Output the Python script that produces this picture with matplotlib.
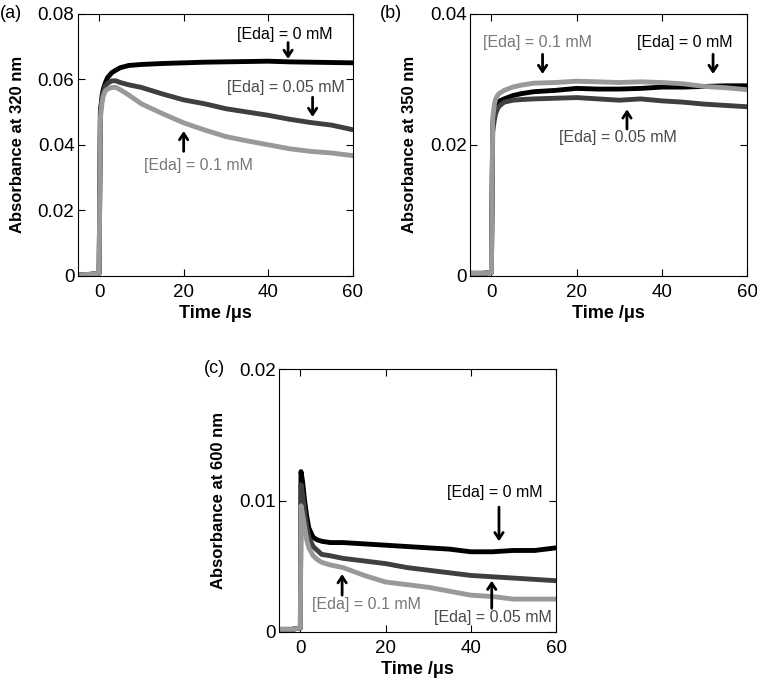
import matplotlib
matplotlib.use('Agg')
import matplotlib.pyplot as plt

plt.rcParams['font.family'] = ['Liberation Sans', 'DejaVu Sans']

# ---- datos ----
# (a) 320 nm
t_a = [-5, -2, -0.2, 0, 0.3, 0.7, 1, 1.5, 2, 3, 4, 5, 7, 10, 15, 20, 25, 30, 35, 40, 45, 50, 55, 60]
a_0 = [0.0003, 0.0005, 0.0008, 0.0008, 0.050, 0.055, 0.057, 0.059, 0.0605, 0.062, 0.0628, 0.0635, 0.0642,
       0.0645, 0.0648, 0.0650, 0.0652, 0.0653, 0.0654, 0.0655, 0.0653, 0.0652, 0.0651, 0.0650]
a_005 = [0.0003, 0.0005, 0.0008, 0.0008, 0.050, 0.054, 0.056, 0.058, 0.0588, 0.0595, 0.0595, 0.059, 0.0583,
         0.0575, 0.0555, 0.0537, 0.0525, 0.0510, 0.0500, 0.0490, 0.0478, 0.0468, 0.0460, 0.0446]
a_01 = [0.0003, 0.0005, 0.0008, 0.0008, 0.048, 0.053, 0.055, 0.0565, 0.057, 0.0575, 0.0575, 0.0568, 0.0552,
        0.0525, 0.0495, 0.0467, 0.0445, 0.0425, 0.0412, 0.0400, 0.0388, 0.0380, 0.0375, 0.0367]

# (b) 350 nm
t_b = [-5, -2, -0.2, 0, 0.3, 0.7, 1, 1.5, 2, 3, 5, 7, 10, 15, 20, 25, 30, 35, 40, 45, 50, 55, 60]
b_0 = [0.0004, 0.0004, 0.0005, 0.0005, 0.023, 0.025, 0.0258, 0.0264, 0.0267, 0.027, 0.0275, 0.0278, 0.0281,
       0.0283, 0.0286, 0.0285, 0.0285, 0.0286, 0.0288, 0.0288, 0.0289, 0.0290, 0.0290]
b_005 = [0.0004, 0.0004, 0.0005, 0.0005, 0.022, 0.0238, 0.0248, 0.0256, 0.026, 0.0265, 0.0268, 0.0269, 0.0270,
         0.0271, 0.0272, 0.0270, 0.0268, 0.0270, 0.0267, 0.0265, 0.0262, 0.0260, 0.0258]
b_01 = [0.0004, 0.0004, 0.0005, 0.0005, 0.024, 0.0262, 0.027, 0.0276, 0.0279, 0.0283, 0.0288, 0.0291, 0.0294,
        0.0295, 0.0297, 0.0296, 0.0295, 0.0296, 0.0295, 0.0293, 0.0289, 0.0287, 0.0284]

# (c) 600 nm
t_c = [-5, -2, -0.2, 0, 0.15, 0.5, 1, 1.5, 2, 3, 4, 5, 7, 10, 15, 20, 25, 30, 35, 40, 45, 50, 55, 60]
c_0 = [0.0002, 0.0002, 0.0003, 0.0003, 0.0122, 0.0115, 0.0100, 0.0088, 0.0079, 0.0072, 0.0070, 0.0069,
       0.0068, 0.0068, 0.0067, 0.0066, 0.0065, 0.0064, 0.0063, 0.0061, 0.0061, 0.0062, 0.0062, 0.0064]
c_005 = [0.0002, 0.0002, 0.0003, 0.0003, 0.0112, 0.0105, 0.0092, 0.0080, 0.0072, 0.0065, 0.0062, 0.0059,
         0.0058, 0.0056, 0.0054, 0.0052, 0.0049, 0.0047, 0.0045, 0.0043, 0.0042, 0.0041, 0.0040, 0.0039]
c_01 = [0.0002, 0.0002, 0.0003, 0.0003, 0.0096, 0.0090, 0.0080, 0.0070, 0.0064, 0.0058, 0.0055, 0.0053,
        0.0051, 0.0049, 0.0043, 0.0038, 0.0036, 0.0034, 0.0031, 0.0028, 0.0027, 0.0025, 0.0025, 0.0025]

COLORS = ['#000000', '#3f3f3f', '#999999']
TXT_COL = ['#000000', '#4a4a4a', '#777777']
LABELS = ['[Eda] = 0 mM', '[Eda] = 0.05 mM', '[Eda] = 0.1 mM']

# anotaciones: (texto x, texto y, flecha x, y cola, y punta)
ANN_A = [(44, 0.0736, 44.7, 0.0712, 0.0662),
         (44.3, 0.0574, 50.5, 0.0545, 0.0485),
         (23.4, 0.0336, 20, 0.0380, 0.0442)]
ANN_B = [(45.4, 0.0356, 52, 0.0338, 0.0308),
         (29.6, 0.0211, 31.8, 0.0224, 0.0254),
         (10.9, 0.0356, 12, 0.0338, 0.0308)]
ANN_C = [(45.7, 0.0106, 46.6, 0.0095, 0.0069),
         (45.2, 0.0011, 44.9, 0.0018, 0.0039),
         (15.5, 0.0021, 9.8, 0.0028, 0.0044)]


def panel(ax, t, series, ymax, yticks, yticklabels, ylabel, ann):
    for y, c in zip(series, COLORS):
        ax.plot(t, y, color=c, lw=3.5, solid_joinstyle='round')
    ax.set_xlim(-5, 60)
    ax.set_ylim(0, ymax)
    ax.set_xticks([0, 20, 40, 60])
    ax.set_yticks(yticks)
    ax.set_yticklabels(yticklabels)
    ax.tick_params(direction='in', top=True, right=True, labelsize=13.5, length=5)
    ax.tick_params(axis='y', pad=2.5)
    ax.tick_params(axis='x', pad=6)
    ax.set_ylabel(ylabel, fontsize=12, fontweight='bold', labelpad=9)
    ax.set_xlabel('Time /μs', fontsize=13, fontweight='bold', labelpad=3)
    for (tx, ty, axx, y0, y1), lab, tc in zip(ann, LABELS, TXT_COL):
        ax.text(tx, ty, lab, color=tc, fontsize=11.5, ha='center', va='center')
        ax.annotate('', xy=(axx, y1), xytext=(axx, y0),
                    arrowprops=dict(arrowstyle='->,head_length=0.45,head_width=0.3',
                                    lw=2, color='black', shrinkA=0, shrinkB=0))


fig = plt.figure(figsize=(7.57, 6.83), dpi=100)
ax_a = fig.add_axes([0.103, 0.596, 0.363, 0.384])
ax_b = fig.add_axes([0.621, 0.596, 0.366, 0.384])
ax_c = fig.add_axes([0.3686, 0.0747, 0.366, 0.385])

panel(ax_a, t_a, [a_0, a_005, a_01], 0.08, [0, 0.02, 0.04, 0.06, 0.08],
      ['0', '0.02', '0.04', '0.06', '0.08'], 'Absorbance at 320 nm', ANN_A)
panel(ax_b, t_b, [b_0, b_005, b_01], 0.04, [0, 0.02, 0.04],
      ['0', '0.02', '0.04'], 'Absorbance at 350 nm', ANN_B)
panel(ax_c, t_c, [c_0, c_005, c_01], 0.02, [0, 0.01, 0.02],
      ['0', '0.01', '0.02'], 'Absorbance at 600 nm', ANN_C)

fig.text(0.0, 0.98, '(a)', fontsize=13, va='center', ha='left')
fig.text(0.502, 0.98, '(b)', fontsize=13, va='center', ha='left')
fig.text(0.269, 0.46, '(c)', fontsize=13, va='center', ha='left')

plt.savefig('out.png', dpi=100)
